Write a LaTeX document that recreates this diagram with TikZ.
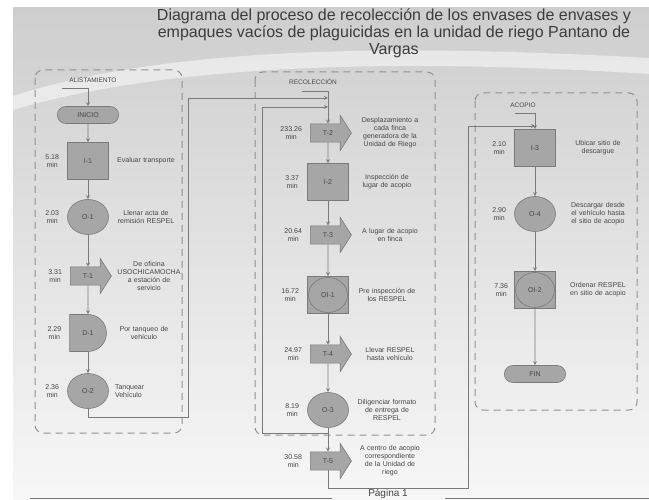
\documentclass[tikz,border=0pt]{standalone}
\usepackage{fontspec}
\setmainfont{Liberation Sans}
\usetikzlibrary{shapes}
\usetikzlibrary{positioning}

\definecolor{shapefill}{RGB}{166,166,166}
\definecolor{shapeline}{RGB}{122,122,122}
\definecolor{txtgray}{RGB}{70,70,70}
\definecolor{panelgray}{RGB}{145,145,145}

\tikzset{
    box/.style={draw=shapeline, fill=shapefill, line width=0.6pt,
        font=\fontsize{7}{8}\selectfont, text=txtgray},
    inspect/.style={box, rectangle, minimum width=41pt, minimum height=37pt},
    operation/.style={box, ellipse, minimum width=41pt, minimum height=35pt, inner sep=0pt},
    transport/.style={box, single arrow, minimum height=41pt, minimum width=35pt,
        single arrow head extend=8pt, single arrow tip angle=115,
        inner xsep=1pt, inner ysep=6pt},
    delay/.style={box, rounded rectangle, rounded rectangle left arc=none,
        minimum width=40pt, minimum height=37pt},
    terminal/.style={box, rounded rectangle, minimum width=68pt, minimum height=17pt},
    combined/.style={inspect, path picture={
        \draw[shapeline, line width=0.6pt] (path picture bounding box.center) ellipse (19.5pt and 17.5pt);}},
    timelbl/.style={font=\fontsize{7}{8}\selectfont, text=txtgray, align=center, inner sep=0pt},
    desc/.style={font=\fontsize{7}{8}\selectfont, text=txtgray, align=center,
        text width=70pt, inner sep=0pt},
    paneltitle/.style={font=\fontsize{6.5}{8}\selectfont, text=txtgray},
    panel/.style={draw=panelgray, dash pattern=on 7pt off 5pt, line width=1pt, rounded corners=8pt},
    flow/.style={draw=shapeline, line width=0.8pt, ->, >=stealth}
}

\begin{document}
\begin{tikzpicture}[x=1pt, y=-1pt]
    \useasboundingbox (0,0) rectangle (649,500);
    \fill[white] (0,0) rectangle (649,500);
    \shade[top color={rgb,255:red,206;green,206;blue,206}, bottom color={rgb,255:red,247;green,247;blue,247}]
        (13,8) rectangle (649,500);
    \fill[white, opacity=0.5] (13,96) .. controls (180,42) and (430,46) .. (649,58)
        -- (649,74) .. controls (430,60) and (180,60) .. (13,110) -- cycle;

    \node[font=\fontsize{16}{17}\selectfont, text={rgb,255:red,60;green,60;blue,60}, align=center] (titulo) at (394,33)
        {Diagrama del proceso de recolección de los envases de envases y\\
         empaques vacíos de plaguicidas en la unidad de riego Pantano de\\
         Vargas};

    \draw[panel] (35,70) rectangle (182,433);
    \draw[panel] (255,72) rectangle (435,435);
    \draw[panel] (475,93) rectangle (637,410);

    \node[paneltitle] (alist) at (93,80) {ALISTAMIENTO};
    \node[paneltitle] (recol) at (313,82) {RECOLECCIÓN};
    \node[paneltitle] (acopio) at (523,105) {ACOPIO};

    % alistamiento
    \node[terminal] (inicio) at (88,115) {INICIO};
    \node[inspect] (i1) at (88,161) {I-1};
    \node[operation] (o1) at (88,217) {O-1};
    \node[transport] (t1) at (88,276) {T-1};
    \node[delay] (d1) at (88,333) {D-1};
    \node[operation] (o2) at (88,391) {O-2};

    \node[timelbl, left=8pt of i1] {5.18\\min};
    \node[timelbl, left=8pt of o1] {2.03\\min};
    \node[timelbl, left=8pt of t1] {3.31\\min};
    \node[timelbl, left=8pt of d1] {2.29\\min};
    \node[timelbl, left=8pt of o2] {2.36\\min};

    \node[desc, right=2pt of i1] {Evaluar transporte};
    \node[desc, right=2pt of o1] {Llenar acta de\\remisión RESPEL};
    \node[desc, right=2pt of t1] {De oficina\\USOCHICAMOCHA\\a estación de\\servicio};
    \node[desc, right=2pt of d1] {Por tanqueo de\\vehículo};
    \node[desc, align=left, right=6pt of o2] {Tanquear\\Vehículo};

    % recoleccion
    \node[transport] (t2) at (328,133) {T-2};
    \node[inspect] (i2) at (328,182) {I-2};
    \node[transport] (t3) at (328,235) {T-3};
    \node[combined] (oi1) at (328,295) {OI-1};
    \node[transport] (t4) at (328,354) {T-4};
    \node[operation] (o3) at (328,410) {O-3};
    \node[transport] (t5) at (328,461) {T-5};

    \node[timelbl, left=8pt of t2] {233.26\\min};
    \node[timelbl, left=8pt of i2] {3.37\\min};
    \node[timelbl, left=8pt of t3] {20.64\\min};
    \node[timelbl, left=8pt of oi1] {16.72\\min};
    \node[timelbl, left=8pt of t4] {24.97\\min};
    \node[timelbl, left=8pt of o3] {8.19\\min};
    \node[timelbl, left=8pt of t5] {30.58\\min};

    \node[desc, right=3pt of t2] {Desplazamiento a\\cada finca\\generadora de la\\Unidad de Riego};
    \node[desc, right=3pt of i2] {Inspección de\\lugar de acopio};
    \node[desc, right=3pt of t3] {A lugar de acopio\\en finca};
    \node[desc, right=3pt of oi1] {Pre inspección de\\los RESPEL};
    \node[desc, right=3pt of t4] {Llevar RESPEL\\hasta vehículo};
    \node[desc, right=3pt of o3] {Diligenciar formato\\de entrega de\\RESPEL};
    \node[desc, right=3pt of t5] {A centro de acopio\\correspondiente\\de la Unidad de\\riego};

    % acopio
    \node[inspect] (i3) at (535,148) {I-3};
    \node[operation] (o4) at (535,214) {O-4};
    \node[combined] (oi2) at (535,290) {OI-2};
    \node[terminal] (fin) at (535,374) {FIN};

    \node[timelbl, left=8pt of i3] {2.10\\min};
    \node[timelbl, left=8pt of o4] {2.90\\min};
    \node[timelbl, left=6pt of oi2] {7.36\\min};

    \node[desc, right=7pt of i3] {Ubicar sitio de\\descargue};
    \node[desc, right=7pt of o4] {Descargar desde\\el vehículo hasta\\el sitio de acopio};
    \node[desc, right=7pt of oi2] {Ordenar RESPEL\\en sitio de acopio};

    % conectores
    \coordinate (alin) at (62,88);
    \coordinate (c1) at (188,417);
    \coordinate (rcin) at (302,91);
    \coordinate (j1) at (328,98);
    \coordinate (j2) at (328,107);
    \coordinate (j3) at (328,433);
    \coordinate (c3) at (262,433);
    \coordinate (c2) at (468,488);
    \coordinate (acin) at (515,113);
    \coordinate (j4) at (535,126);

    \draw[flow] (alin) -| (inicio);
    \draw[flow] (inicio) -- (i1);
    \draw[flow] (i1) -- (o1);
    \draw[flow] (o1) -- (t1);
    \draw[flow] (t1) -- (d1);
    \draw[flow] (d1) -- (o2);
    \draw[flow] (o2) |- (c1) |- (j1);

    \draw[flow] (rcin) -| (t2);
    \draw[flow] (t2) -- (i2);
    \draw[flow] (i2) -- (t3);
    \draw[flow] (t3) -- (oi1);
    \draw[flow] (oi1) -- (t4);
    \draw[flow] (t4) -- (o3);
    \draw[flow] (o3) -- (t5);
    \draw[flow] (j3) -- (c3) |- (j2);
    \draw[flow] (t5) |- (c2) |- (j4);

    \draw[flow] (acin) -| (i3);
    \draw[flow] (i3) -- (o4);
    \draw[flow] (o4) -- (oi2);
    \draw[flow] (oi2) -- (fin);

    \draw[shapeline, line width=0.8pt] (30,498.5) -- (332,498.5);
    \draw[shapeline, line width=0.8pt] (445,498.5) -- (649,498.5);
    \node[font=\fontsize{10}{12}\selectfont, text=txtgray, anchor=base] (pagina) at (388,496.5) {Página 1};
\end{tikzpicture}
\end{document}
